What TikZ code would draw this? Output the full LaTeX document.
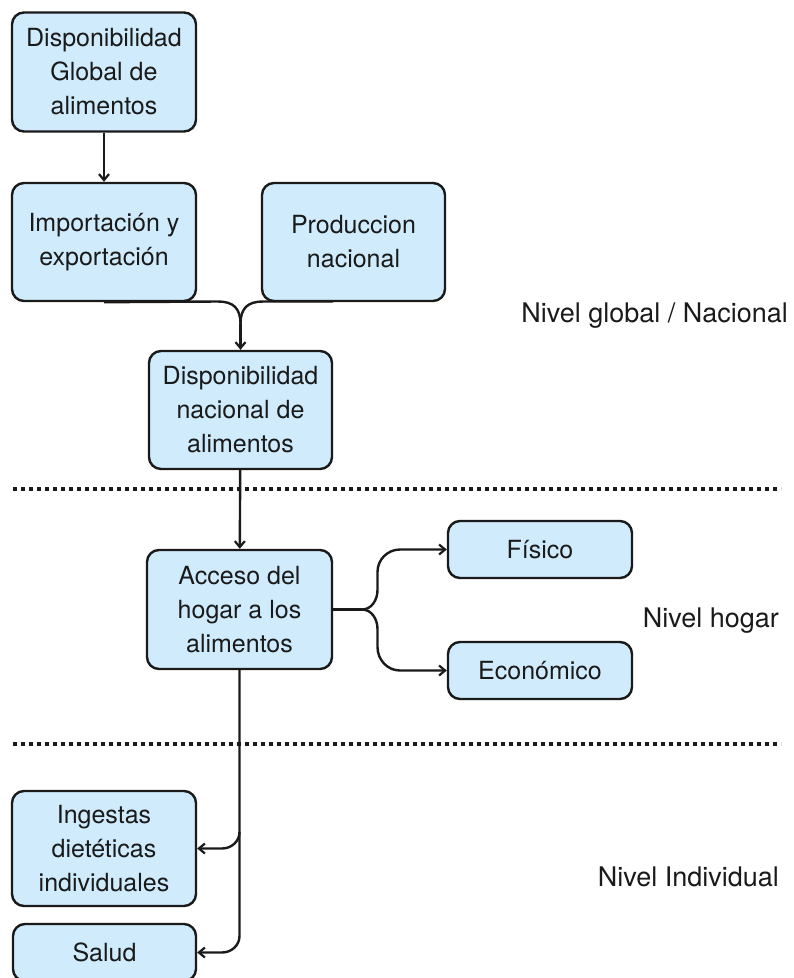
\documentclass[tikz,border=0pt]{standalone}
\usepackage{fontspec}
\setmainfont{TeX Gyre Heros}
\usetikzlibrary{arrows.meta}
\definecolor{boxfill}{RGB}{207,235,252}
\definecolor{ink}{RGB}{26,26,26}
\tikzset{
  box/.style={draw=ink, fill=boxfill, line width=2.4pt, rounded corners=12pt,
    align=center, inner sep=0pt, text=ink,
    font=\fontsize{25}{34}\selectfont},
  lbl/.style={text=ink, inner sep=0pt, font=\fontsize{27}{34}\selectfont},
  conn/.style={draw=ink, line width=2.4pt},
  arr/.style={conn, -{Straight Barb[length=6pt,width=10pt,line width=2.2pt]}},
  sep/.style={draw=ink, line width=4pt, dash pattern=on 4pt off 4pt}
}
\begin{document}
\begin{tikzpicture}[x=1pt,y=-1pt]
\useasboundingbox (0,0) rectangle (794,978);
\clip (0,0) rectangle (794,978);

\node[box, minimum width=184pt, minimum height=119pt] (b1) at (104,72) {Disponibilidad\\Global de\\alimentos};
\node[box, minimum width=184pt, minimum height=118pt] (b2) at (104,242) {Importación y\\exportación};
\node[box, minimum width=183pt, minimum height=118pt] (b3) at (353.5,242) {Produccion\\nacional};
\node[box, minimum width=183pt, minimum height=118pt] (b4) at (240.5,410) {Disponibilidad\\nacional de\\alimentos};
\node[box, minimum width=185pt, minimum height=119pt] (b5) at (239.5,609.5) {Acceso del\\hogar a los\\alimentos};
\node[box, minimum width=184pt, minimum height=57pt] (fis) at (540,549.5) {Físico};
\node[box, minimum width=184pt, minimum height=57pt] (eco) at (540,670.5) {Económico};
\node[box, minimum width=184pt, minimum height=115pt] (ing) at (104,848.5) {Ingestas\\dietéticas\\individuales};
\node[box, minimum width=183pt, minimum height=57pt] (sal) at (104.5,952.5) {Salud};

\node[lbl, anchor=base east] (l1) at (788,322) {Nivel global / Nacional};
\node[lbl, anchor=base east] (l2) at (779,627) {Nivel hogar};
\node[lbl, anchor=base east] (l3) at (779,886) {Nivel Individual};

\coordinate (d1a) at (13,489);
\coordinate (d1b) at (781,489);
\coordinate (d2a) at (13,744);
\coordinate (d2b) at (781,744);
\draw[sep] (d1a) -- (d1b);
\draw[sep] (d2a) -- (d2b);

\draw[arr] (b1) -- (b2);

\coordinate (m) at (240.5,324);
\coordinate (pr) at (333,301.5);
\draw[conn] (b2.south) -- (218,301.5) .. controls (233,301.5) and (240.5,308) .. (m);
\draw[conn] (pr) -- (263,301.5) .. controls (248,301.5) and (240.5,308) .. (m);
\draw[arr] (m) -- (b4.north);

\draw[arr] (b4) -- (b5);

\coordinate (s) at (362,609.5);
\draw[conn, line width=3.4pt] (b5.east) -- (s);
\draw[arr] (s) to[out=0,in=-90] (377.5,590) -- (377.5,572) to[out=90,in=180] (400,549.5) -- (fis.west);
\draw[arr] (s) to[out=0,in=90] (377.5,629) -- (377.5,647) to[out=-90,in=180] (400,670.5) -- (eco.west);

\coordinate (v) at (239.5,832);
\draw[arr] (b5.south) -- (v) to[out=-90,in=0] (222,848.5) -- (ing.east);
\draw[arr] (v) -- (239.5,936) to[out=-90,in=0] (222,952.5) -- (sal.east);
\end{tikzpicture}
\end{document}
